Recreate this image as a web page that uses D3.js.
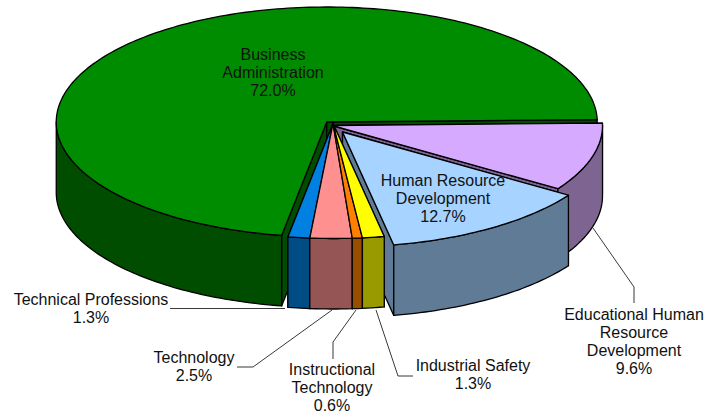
<!DOCTYPE html>
<html>
<head>
<meta charset="utf-8">
<script src="https://cdn.jsdelivr.net/npm/d3@7"></script>
<style>
  body { margin: 0; background: #fff; }
  text { font-family: "Liberation Sans", Arial, sans-serif; font-size: 16px; fill: #111; }
</style>
</head>
<body>
<div id="container"></div>
<script>
// slices in clockwise order, starting at 3 o'clock
let categories = ["Educational Human Resource Development", "Human Resource Development", "Industrial Safety", "Instructional Technology", "Technology", "Technical Professions", "Business Administration"];
let shares = [9.6, 12.7, 1.3, 0.6, 2.5, 1.3, 72.0];
let topColors = ["#d5aaff", "#a6d3ff", "#ffff00", "#ff8000", "#ff9090", "#0080e0", "#008c00"];
let sideColors = ["#7d6491", "#5f7b95", "#999900", "#994d00", "#955555", "#004d86", "#004d00"];

let w = 708;
let h = 413;
let cx = 333, cy = 122;
let rx = 270.5, ry = 115;
let depth = 70.5;
let rotation = -1.2 * Math.PI / 180;

// pull-out of each slice from the centre, in px
let offsets = [[-1, 3.5], [9.5, 10], [0, 1.5], [0, 1.5], [0, 1.5], [0, 1.5], [-6.25, 0]];
// back slices first so the front ones overlap them
let drawOrder = [6, 0, 1, 5, 4, 3, 2];

let labels = [
  { lines: ["Educational Human", "Resource", "Development", "9.6%"], x: 634, y: 320 },
  { lines: ["Human Resource", "Development", "12.7%"], x: 443, y: 186 },
  { lines: ["Industrial Safety", "1.3%"], x: 473, y: 371 },
  { lines: ["Instructional", "Technology", "0.6%"], x: 332, y: 375 },
  { lines: ["Technology", "2.5%"], x: 194, y: 363 },
  { lines: ["Technical Professions", "1.3%"], x: 91, y: 305 },
  { lines: ["Business", "Administration", "72.0%"], x: 273, y: 60 }
];
let leaders = [
  [[593, 228], [634, 287], [634, 303]],
  [[376, 310], [398, 376], [413, 376]],
  [[356, 310], [333, 342], [333, 359]],
  [[332, 310], [253, 367], [237, 367]],
  [[285, 308.5], [170, 308.5]]
];

let svg = d3.select("#container").append("svg")
  .attr("width", w)
  .attr("height", h);

let pie = d3.pie().sort(null)
  .startAngle(Math.PI / 2 + rotation)
  .endAngle(Math.PI / 2 + rotation + 2 * Math.PI);
let arcs = pie(shares);

let line = d3.line();
let style = sel => sel.attr("stroke", "#000").attr("stroke-width", 1.3).attr("stroke-linejoin", "round");

function project(i, angle, r) {
  return [cx + offsets[i][0] + r * rx * Math.sin(angle), cy + offsets[i][1] - r * ry * Math.cos(angle)];
}

function rimPoints(i, a0, a1) {
  let steps = Math.max(2, Math.ceil((a1 - a0) / 0.02));
  return d3.range(steps + 1).map(k => project(i, a0 + (a1 - a0) * k / steps, 1));
}

function down(p) {
  return [p[0], p[1] + depth];
}

// cut faces go first, everything else paints over them
function drawFaces(i) {
  let apex = project(i, 0, 0);
  [arcs[i].startAngle, arcs[i].endAngle].forEach(a => {
    let p = project(i, a, 1);
    svg.append("path")
      .attr("d", line([apex, p, down(p), down(apex)]) + "Z")
      .attr("fill", sideColors[i])
      .call(style);
  });
}

function drawSlice(i) {
  let a0 = arcs[i].startAngle, a1 = arcs[i].endAngle;
  let apex = project(i, 0, 0);

  // outer wall, front half only (the back of the rim is hidden)
  let from = Math.max(a0, Math.PI / 2), to = Math.min(a1, Math.PI * 1.5);
  if (to > from) {
    let rim = rimPoints(i, from, to);
    svg.append("path")
      .attr("d", line(rim.concat(rim.slice().reverse().map(down))) + "Z")
      .attr("fill", sideColors[i])
      .call(style);
  }

  svg.append("path")
    .attr("d", line([apex].concat(rimPoints(i, a0, a1))) + "Z")
    .attr("fill", topColors[i])
    .call(style);
}

drawOrder.forEach(drawFaces);
drawOrder.forEach(drawSlice);

// leader lines
svg.selectAll(".leader").data(leaders).enter()
  .append("path")
  .attr("class", "leader")
  .attr("d", d => line(d))
  .attr("fill", "none")
  .attr("stroke", "#222")
  .attr("stroke-width", 0.9);

let labelGroups = svg.selectAll(".label").data(labels).enter()
  .append("text")
  .attr("class", "label")
  .attr("text-anchor", "middle");

labelGroups.selectAll("tspan").data(d => d.lines.map((t, k) => ({ t, k, x: d.x, y: d.y }))).enter()
  .append("tspan")
  .attr("x", d => d.x)
  .attr("y", d => d.y + d.k * 18)
  .text(d => d.t);
</script>
</body>
</html>
